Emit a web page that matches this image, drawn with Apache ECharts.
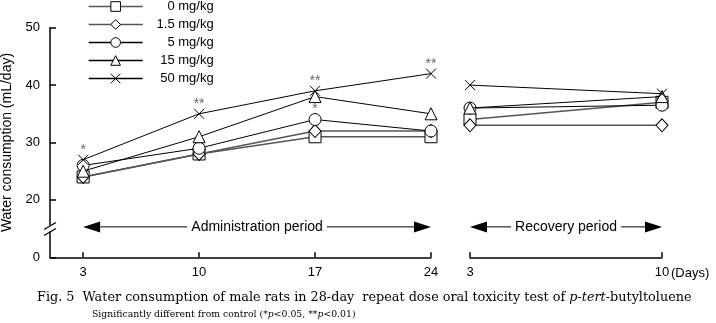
<!DOCTYPE html>
<html>
<head>
<meta charset="utf-8">
<script src="https://cdn.jsdelivr.net/npm/echarts@6/dist/echarts.min.js"></script>
<style>
  html, body { margin: 0; padding: 0; background: #fff; }
  #chart { width: 716px; height: 323px; }
</style>
</head>
<body>
<div id="chart"></div>
<script>
// Doses and sampling days
const doseNames = ['0 mg/kg', '1.5 mg/kg', '5 mg/kg', '15 mg/kg', '50 mg/kg'];
const adminDays = [3, 10, 17, 24];
const recoveryDays = [3, 10];

// Water consumption (mL/day) during administration
const admin0   = [24, 28, 31, 31];
const admin1_5 = [24, 28, 32, 32];
const admin5   = [26, 29, 34, 32];
const admin15  = [25, 31, 38, 35];
const admin50  = [27, 35, 39, 42];

// Water consumption (mL/day) during recovery
const recov0   = [34, 37];
const recov1_5 = [33, 33];
const recov5   = [36, 36.5];
const recov15  = [36, 38];
const recov50  = [40, 38.5];

// Significance marks (administration period)
const sig5  = ['', '', '*', ''];
const sig50 = ['*', '**', '**', '**'];

// Y axis: the lowest tick sits below the axis break and reads "0"
const yMin = 10, yMax = 50, yStep = 10;

const FONT = '"Liberation Sans", Arial, sans-serif';
const SERIF = '"DejaVu Serif", "Liberation Serif", serif';

const adminSets = [admin0, admin1_5, admin5, admin15, admin50];
const recovSets = [recov0, recov1_5, recov5, recov15, recov50];
const sigSets = [null, null, sig5, null, sig50];
const symbols = ['rect', 'diamond', 'circle', 'triangle', 'path://M0,0L10,10M10,0L0,10'];
const symbolSizes = [12, [12, 13], 12, [12, 12], 10];
const lineColors = ['#555', '#555', '#000', '#000', '#000'];
const lineWidths = [1.4, 1.4, 1, 1, 1];

const chart = echarts.init(document.getElementById('chart'), null, { renderer: 'canvas' });

const pair = (xs, ys) => xs.map((x, i) => [x, ys[i]]);

const series = [];
doseNames.forEach((name, k) => {
  const common = {
    name: name,
    type: 'line',
    symbol: symbols[k],
    symbolSize: symbolSizes[k],
    showAllSymbol: true,
    lineStyle: { color: lineColors[k], width: lineWidths[k] },
    itemStyle: { color: '#fff', borderColor: '#000', borderWidth: 1 },
    emphasis: { disabled: true },
    animation: false,
    z: 2 + k
  };
  const sig = sigSets[k];
  series.push(Object.assign({}, common, {
    xAxisIndex: 0, yAxisIndex: 0,
    data: pair(adminDays, adminSets[k]),
    label: sig ? {
      show: true, position: 'top', distance: -3,
      formatter: p => sig[p.dataIndex],
      color: '#6a6a6a', fontSize: 14, fontFamily: FONT
    } : { show: false }
  }));
  series.push(Object.assign({}, common, {
    xAxisIndex: 1, yAxisIndex: 1,
    data: pair(recoveryDays, recovSets[k]),
    label: { show: false }
  }));
});

const axisFont = { color: '#000', fontSize: 13, fontFamily: FONT };

chart.setOption({
  animation: false,
  grid: [
    { left: 50, right: 285, top: 27.7, bottom: 65.7, outerBoundsMode: 'none', containLabel: false },
    { left: 470, right: 54, top: 27.7, bottom: 65.7, outerBoundsMode: 'none', containLabel: false }
  ],
  legend: {
    orient: 'vertical',
    left: 88, top: 0,
    itemWidth: 54, itemHeight: 12, itemGap: 5.0,
    padding: 0,
    selectedMode: false,
    data: doseNames,
    lineStyle: { width: 1.3 },
    itemStyle: { borderWidth: 1 },
    formatter: n => '{r|' + n + '}',
    textStyle: {
      color: '#000', fontSize: 13, fontFamily: FONT,
      rich: { r: { width: 66, align: 'right', fontSize: 13, fontFamily: FONT } }
    }
  },
  xAxis: [
    {
      gridIndex: 0, type: 'value', min: 1, max: 24,
      axisLine: { show: true, lineStyle: { color: '#000', width: 1.5 } },
      axisTick: { show: true, inside: true, length: 5, customValues: adminDays, lineStyle: { color: '#000', width: 1.5 } },
      axisLabel: { show: true, customValues: adminDays, margin: 9, ...axisFont },
      splitLine: { show: false }
    },
    {
      gridIndex: 1, type: 'value', min: 3, max: 10,
      axisLine: { show: true, lineStyle: { color: '#000', width: 1.5 } },
      axisTick: { show: true, inside: true, length: 5, customValues: recoveryDays, lineStyle: { color: '#000', width: 1.5 } },
      axisLabel: { show: true, customValues: recoveryDays, margin: 9, ...axisFont },
      splitLine: { show: false }
    }
  ],
  yAxis: [
    {
      gridIndex: 0, type: 'value', min: yMin, max: yMax, interval: yStep,
      name: 'Water consumption (mL/day)',
      nameLocation: 'middle', nameGap: 33, nameRotate: 90,
      nameTextStyle: { color: '#000', fontSize: 14, fontFamily: FONT },
      axisLine: { show: true, lineStyle: { color: '#000', width: 1.5 } },
      axisTick: { show: true, inside: true, length: 6, lineStyle: { color: '#000', width: 1.5 } },
      axisLabel: { margin: 10, formatter: v => (v === yMin ? '0' : String(v)), ...axisFont },
      splitLine: { show: false }
    },
    {
      gridIndex: 1, type: 'value', min: yMin, max: yMax, interval: yStep,
      show: false
    }
  ],
  series: series
});

// Overlay: axis break, period arrows, day unit and figure caption
function buildOverlay() {
  const px = (xi, yi, x, y) => chart.convertToPixel({ xAxisIndex: xi, yAxisIndex: yi }, [x, y]);
  const g = [];

  // axis break on the y axis
  const axX = px(0, 0, 1, 15)[0];
  const brY = 228.5;
  g.push({ type: 'rect', shape: { x: axX - 3, y: brY - 3, width: 6, height: 6 }, style: { fill: '#fff' }, z: 50 });
  g.push({ type: 'line', shape: { x1: axX - 6, y1: brY + 1, x2: axX + 6, y2: brY - 6 }, style: { stroke: '#000', lineWidth: 1.3 }, z: 51 });
  g.push({ type: 'line', shape: { x1: axX - 6, y1: brY + 7, x2: axX + 6, y2: brY }, style: { stroke: '#000', lineWidth: 1.3 }, z: 51 });

  // period arrows
  function period(xi, yi, x0, x1, label) {
    const a = px(xi, yi, x0, 15.3), b = px(xi, yi, x1, 15.3);
    const y = a[1], head = 17, half = 5.5;
    g.push({ type: 'line', shape: { x1: a[0] + head, y1: y, x2: b[0] - head, y2: y }, style: { stroke: '#000', lineWidth: 1 }, z: 40 });
    g.push({ type: 'polygon', shape: { points: [[a[0], y], [a[0] + head, y - half], [a[0] + head, y + half]] }, style: { fill: '#000' }, z: 41 });
    g.push({ type: 'polygon', shape: { points: [[b[0], y], [b[0] - head, y - half], [b[0] - head, y + half]] }, style: { fill: '#000' }, z: 41 });
    g.push({
      type: 'text', x: (a[0] + b[0]) / 2, y: y, z: 42,
      style: {
        text: label, fill: '#000', font: '14px ' + FONT,
        align: 'center', verticalAlign: 'middle',
        backgroundColor: '#fff', padding: [0, 4]
      }
    });
  }
  period(0, 0, 3, 24, 'Administration period');
  period(1, 1, 3, 10, 'Recovery period');

  // day unit next to the last recovery tick label
  const d = px(1, 1, 10, yMin);
  g.push({
    type: 'text', x: d[0] + 9, y: d[1] + 16, z: 42,
    style: { text: '(Days)', fill: '#000', font: '13px ' + FONT, align: 'left', verticalAlign: 'middle' }
  });

  // figure caption
  g.push({
    type: 'text', x: 37, y: 298, z: 42,
    style: {
      text: '{n|Fig. 5  Water consumption of male rats in 28-day  repeat dose oral toxicity test of }{i|p}{n|-}{i|tert}{n|-butyltoluene}',
      verticalAlign: 'middle', align: 'left',
      rich: {
        n: { fontFamily: SERIF, fontSize: 12.8, fill: '#000', color: '#000' },
        i: { fontFamily: SERIF, fontSize: 12.8, fontStyle: 'italic', fill: '#000', color: '#000' }
      }
    }
  });
  g.push({
    type: 'text', x: 92, y: 315, z: 42,
    style: {
      text: '{n|Significantly different from control (*}{i|p}{n|<0.05, **}{i|p}{n|<0.01)}',
      verticalAlign: 'middle', align: 'left',
      rich: {
        n: { fontFamily: SERIF, fontSize: 9.3, fill: '#000', color: '#000' },
        i: { fontFamily: SERIF, fontSize: 9.3, fontStyle: 'italic', fill: '#000', color: '#000' }
      }
    }
  });
  chart.setOption({ graphic: g });
}
buildOverlay();
</script>
</body>
</html>
